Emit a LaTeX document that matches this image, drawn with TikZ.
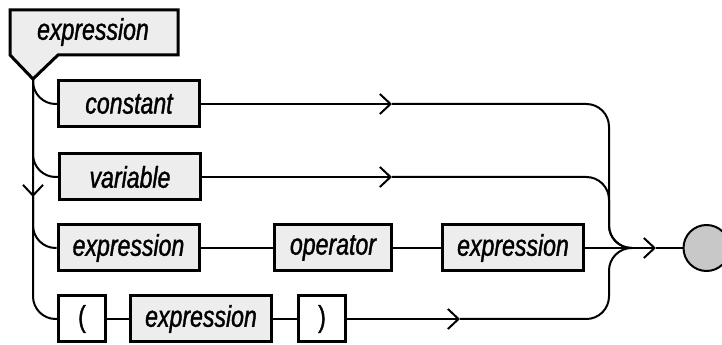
\documentclass[tikz,border=0pt]{standalone}
\usepackage{fontspec}
\newfontfamily\railfont[FakeStretch=0.77, FakeBold=1.2]{Liberation Sans}
\usepackage{tikz}
\usetikzlibrary{arrows.meta}

\definecolor{termgray}{RGB}{236,237,236}
\definecolor{stopgray}{RGB}{200,200,200}

\tikzset{
  rail/.style={line width=1.5pt, rounded corners=17pt},
  term/.style={draw, line width=2.25pt, fill=termgray, inner sep=0pt,
    minimum width=105.75pt, minimum height=34.5pt,
    font=\railfont\itshape\fontsize{22.5}{24}\selectfont},
  lit/.style={term, fill=white, minimum width=35.25pt, font=\railfont\fontsize{22.5}{24}\selectfont},
  stop/.style={draw, circle, line width=1.5pt, fill=stopgray, minimum size=34.5pt, inner sep=0pt}
}

\begin{document}
\begin{tikzpicture}[x=0.75pt, y=-0.75pt, >={Straight Barb[length=8pt, width=15pt]}]
      \useasboundingbox (0,0) rectangle (722,345);

      \draw[line width=2.25pt, fill=termgray, line join=miter]
        (10,10) -- (178,10) -- (178,55) -- (58,55) -- (33,79) -- (10,55) -- cycle;
      \node[inner sep=0pt, font=\railfont\itshape\fontsize{22.5}{24}\selectfont]
        (head) at (93,32) {expression};

      \coordinate (tip) at (33,79);
      \coordinate (down) at (33,197);
      \coordinate (ac) at (392,104);
      \coordinate (av) at (392,177);
      \coordinate (ap) at (460,319);
      \coordinate (rail) at (609,248);
      \coordinate (join) at (631,248);
      \coordinate (aj) at (656,248);

      \node[term] (constant) at (129,104) {constant};
      \node[term] (variable) at (130,177) {variable};
      \node[term] (expr1) at (128.5,248) {expression};
      \node[term, minimum width=87.75pt] (operator) at (333,248) {operator};
      \node[term] (expr2) at (513,248) {expression};
      \node[lit] (lparen) at (82,319) {(};
      \node[term] (expr3) at (201,319) {expression};
      \node[lit] (rparen) at (322,319) {)};
      \node[stop] (stop) at (706.5,248) {};

      \draw[rail] (tip) |- (constant.west);
      \draw[rail] (tip) |- (variable.west);
      \draw[rail] (tip) |- (expr1.west);
      \draw[rail, ->] (tip) -- (down);
      \draw[rail] (down) |- (lparen.west);

      \draw[rail, ->] (constant.east) -- (ac);
      \draw[rail] (ac) -| (rail) -- (join);
      \draw[rail, ->] (variable.east) -- (av);
      \draw[rail] (av) -| (rail) -- (join);

      \draw[rail] (expr1) -- (operator);
      \draw[rail] (operator) -- (expr2);
      \draw[rail] (expr2.east) -- (join);

      \draw[rail] (lparen) -- (expr3);
      \draw[rail] (expr3) -- (rparen);
      \draw[rail, ->] (rparen.east) -- (ap);
      \draw[rail] (ap) -| (rail) -- (join);

      \draw[rail, ->] (join) -- (aj);
      \draw[rail] (aj) -- (stop.west);
    \end{tikzpicture}
\end{document}
